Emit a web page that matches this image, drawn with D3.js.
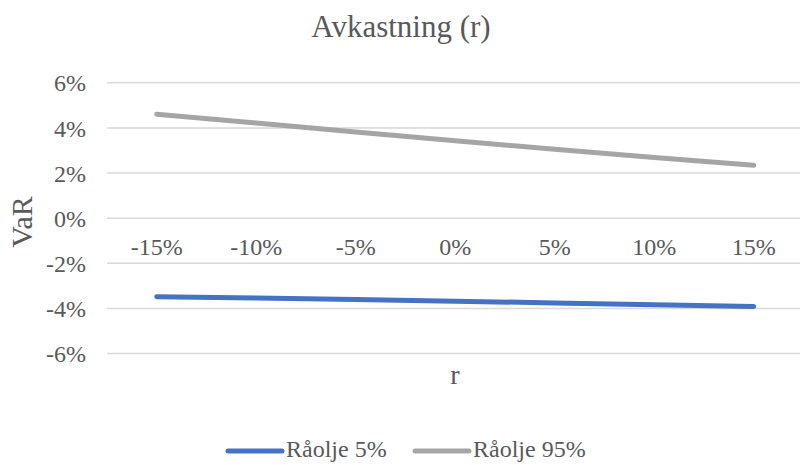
<!DOCTYPE html>
<html>
<head>
<meta charset="utf-8">
<script src="https://cdn.jsdelivr.net/npm/d3@7"></script>
<style>
  html, body { margin: 0; padding: 0; background: #fff; }
  svg { display: block; }
  text { fill: #595959; }
</style>
</head>
<body>
<svg id="chart" width="800" height="465" font-family="'Liberation Serif', 'Times New Roman', Times, 'DejaVu Serif', serif"></svg>
<script>
const categories = ["-15%", "-10%", "-5%", "0%", "5%", "10%", "15%"];
const raolje5 = [-3.48, -3.54, -3.61, -3.68, -3.76, -3.84, -3.92];
const raolje95 = [4.61, 4.22, 3.82, 3.43, 3.05, 2.69, 2.34];
const yTicks = [-6, -4, -2, 0, 2, 4, 6];
const seriesNames = ["Råolje 5%", "Råolje 95%"];
const seriesColors = ["#4472C4", "#A5A5A5"];

const svg = d3.select("#chart");
const plotLeft = 107, plotRight = 803.5, plotTop = 82.8, plotBottom = 353.5;

const x = d3.scaleBand().domain(categories).range([plotLeft, plotRight]);
const y = d3.scaleLinear().domain([-6, 6]).range([plotBottom, plotTop]);

// gridlines
svg.append("g").selectAll("line").data(yTicks).join("line")
  .attr("x1", plotLeft).attr("x2", 800)
  .attr("y1", d => y(d)).attr("y2", d => y(d))
  .attr("stroke", "#d9d9d9").attr("stroke-width", 1.5);

// y tick labels
svg.append("g").selectAll("text").data(yTicks).join("text")
  .attr("x", 86).attr("y", d => y(d)).attr("dy", "0.36em")
  .attr("text-anchor", "end").attr("font-size", 24)
  .text(d => d + "%");

// x tick labels
svg.append("g").selectAll("text").data(categories).join("text")
  .attr("x", d => x(d) + x.bandwidth() / 2).attr("y", 255)
  .attr("text-anchor", "middle").attr("font-size", 24)
  .text(d => d);

// series lines
const line = d3.line().x((d, i) => x(categories[i]) + x.bandwidth() / 2).y(d => y(d));
[raolje5, raolje95].forEach((s, k) => {
  svg.append("path").datum(s)
    .attr("d", line).attr("fill", "none")
    .attr("stroke", seriesColors[k]).attr("stroke-width", 5)
    .attr("stroke-linecap", "round").attr("stroke-linejoin", "round");
});

// title
svg.append("text").attr("x", 401).attr("y", 37).attr("text-anchor", "middle")
  .attr("font-size", 31).text("Avkastning (r)");

// axis titles
svg.append("text").attr("transform", "translate(32,222) rotate(-90)")
  .attr("text-anchor", "middle").attr("font-size", 30).text("VaR");
svg.append("text").attr("x", 455).attr("y", 384).attr("text-anchor", "middle")
  .attr("font-size", 28).text("r");

// legend
const legendX = [228, 415];
seriesNames.forEach((n, k) => {
  svg.append("line").attr("x1", legendX[k]).attr("x2", legendX[k] + 54)
    .attr("y1", 451).attr("y2", 451)
    .attr("stroke", seriesColors[k]).attr("stroke-width", 5).attr("stroke-linecap", "round");
  svg.append("text").attr("x", legendX[k] + 58).attr("y", 457)
    .attr("font-size", 24).text(n);
});
</script>
</body>
</html>
